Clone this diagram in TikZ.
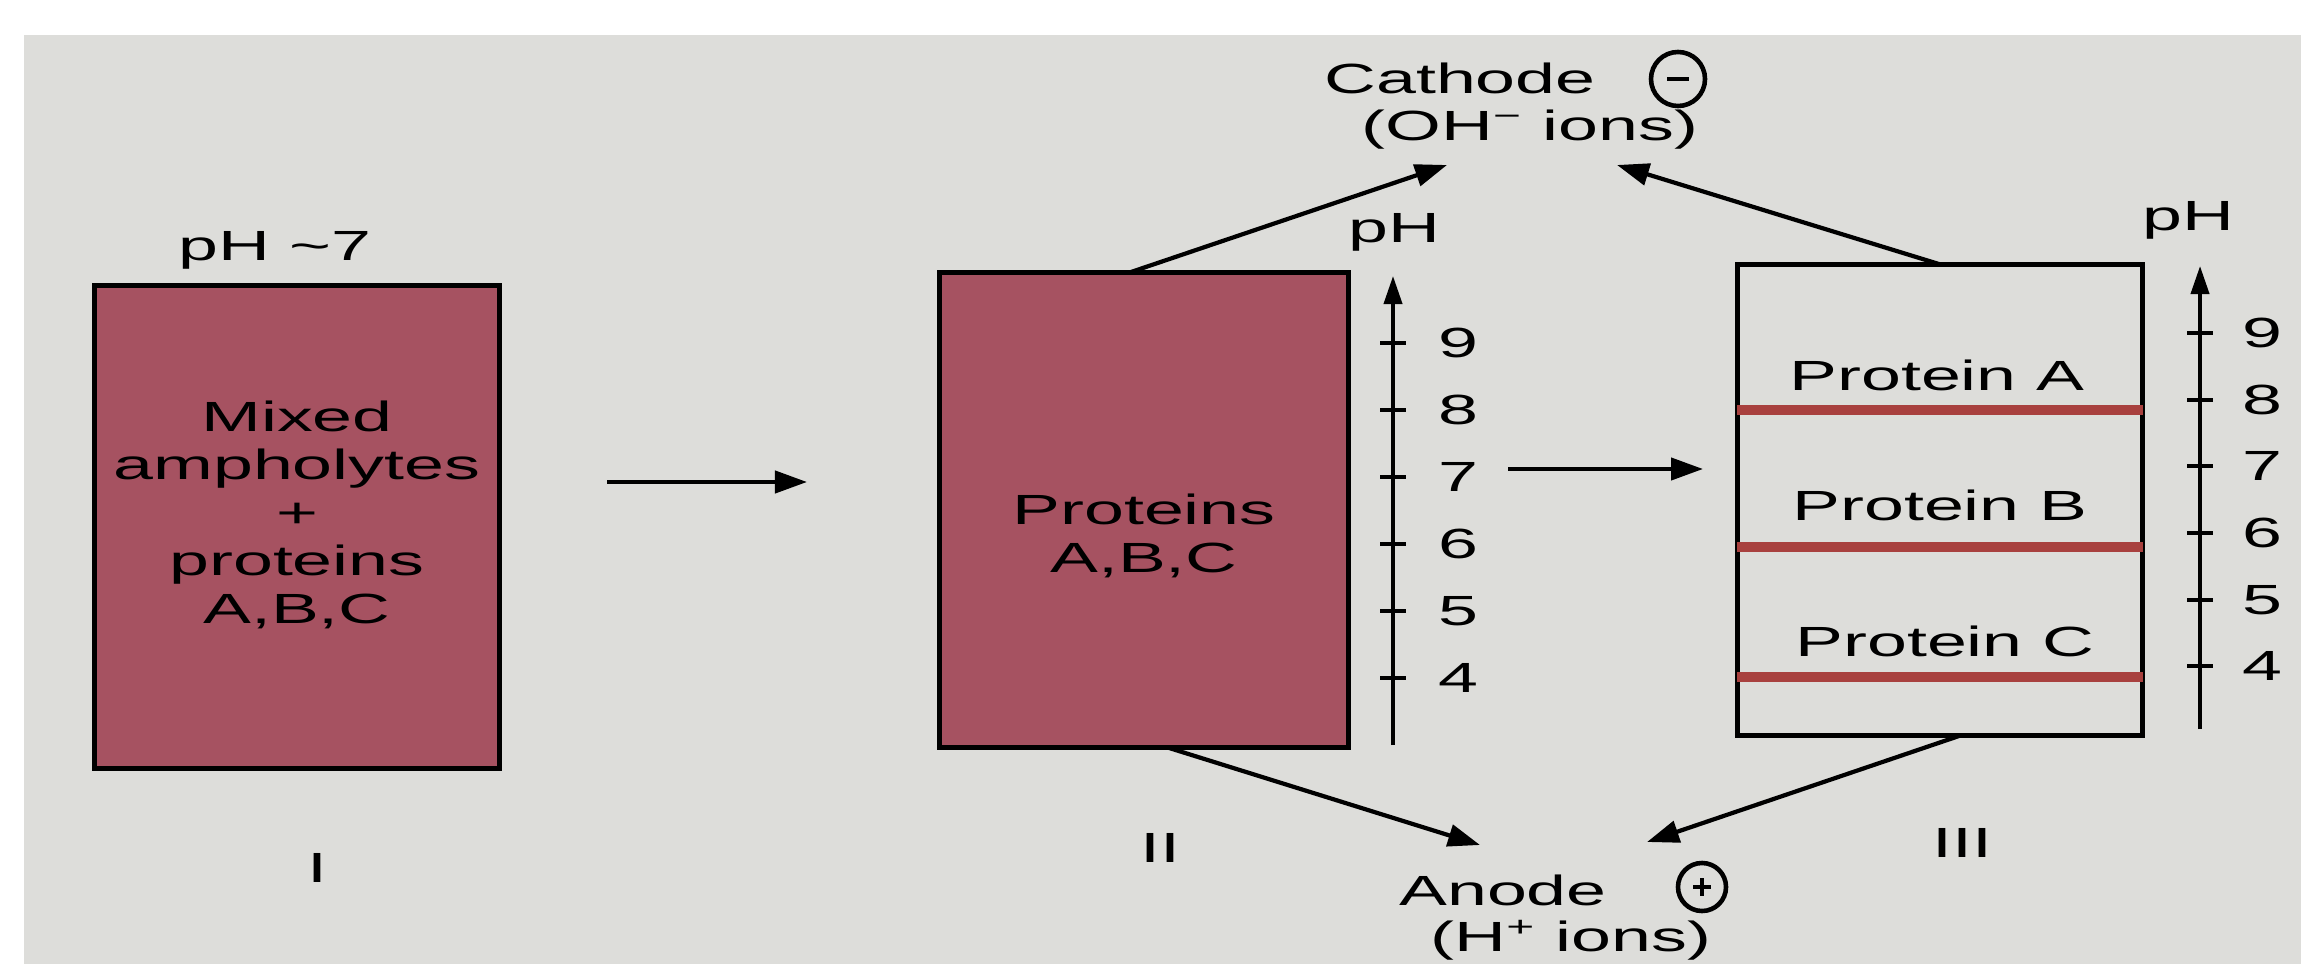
\documentclass[tikz,border=0pt]{standalone}
\usepackage{fontspec}
\setmainfont{Liberation Sans}[FakeStretch=1.7]
\usetikzlibrary{arrows.meta,calc}
\definecolor{bgc}{RGB}{221,221,218}
\definecolor{gelc}{RGB}{166,82,97}
\definecolor{bandc}{RGB}{168,64,62}
\begin{document}
\begin{tikzpicture}[x=0.01cm,y=-0.01cm,
  lbl/.style={font=\fontsize{12}{13.7}\selectfont, inner sep=0pt, align=center},
  gelbox/.style={draw=black, line width=1.4pt, fill=gelc, inner sep=0pt, outer sep=0pt},
  clearbox/.style={draw=black, line width=1.4pt, inner sep=0pt, outer sep=0pt},
  arr/.style={-{Triangle[length=0.32cm,width=0.22cm]}, line width=1.2pt},
  axisline/.style={-{Triangle[length=0.28cm,width=0.18cm]}, line width=1.1pt},
  phtick/.style={line width=1.1pt},
  bandline/.style={draw=bandc, line width=2.8pt},
  sign/.style={circle, draw=black, line width=1.3pt, inner sep=0pt}]
\useasboundingbox (0,0) rectangle (2301,964);
\fill[white] (0,0) rectangle (2301,964);
\fill[bgc] (24,35) rectangle (2301,964);

% Box I
\node[gelbox, minimum width=4.05cm, minimum height=4.82cm] (b1) at (297,527) {};
\node[lbl] (t1) at (297,515) {Mixed\\ampholytes\\+\\proteins\\A,B,C};
\node[lbl] (ph7) at (275,250) {pH \textasciitilde7};
\node[lbl] (r1) at (317,868) {I};

% Box II
\node[gelbox, minimum width=4.08cm, minimum height=4.75cm] (b2) at (1144,510) {};
\node[lbl] (t2) at (1144,536) {Proteins\\A,B,C};
\node[lbl] (r2) at (1160,848) {II};

% pH axis II
\node[lbl] (phII) at (1394,232) {pH};
\coordinate (axIIb) at (1393,745);
\coordinate (axIIt) at (1393,276);
\draw[axisline] (axIIb) -- (axIIt);
\foreach \v/\y in {9/343,8/410,7/477,6/544,5/611,4/678}{
  \draw[phtick] (1380,\y) -- (1406,\y);
  \node[lbl] (nII\v) at (1458,\y) {\v};
}

% Box III
\node[clearbox, minimum width=4.05cm, minimum height=4.71cm] (b3) at (1940,500) {};
\draw[bandline] (b3.west |- 0,410) -- (b3.east |- 0,410);
\draw[bandline] (b3.west |- 0,547) -- (b3.east |- 0,547);
\draw[bandline] (b3.west |- 0,677) -- (b3.east |- 0,677);
\node[lbl] (pa) at (1937,375) {Protein A};
\node[lbl] (pb) at (1940,505) {Protein B};
\node[lbl] (pc) at (1945,641) {Protein C};
\node[lbl] (r3) at (1962,843) {III};

% pH axis III
\node[lbl] (phIII) at (2188,220) {pH};
\coordinate (axIIIb) at (2200,729);
\coordinate (axIIIt) at (2200,266);
\draw[axisline] (axIIIb) -- (axIIIt);
\foreach \v/\y in {9/333,8/400,7/466,6/533,5/600,4/666}{
  \draw[phtick] (2187,\y) -- (2213,\y);
  \node[lbl] (nIII\v) at (2262,\y) {\v};
}

% horizontal arrows
\coordinate (a1s) at (607,482);
\coordinate (a1e) at (807,482);
\draw[arr] (a1s) -- (a1e);
\coordinate (a2s) at (1508,469);
\coordinate (a2e) at (1703,469);
\draw[arr] (a2s) -- (a2e);

% Cathode
\node[lbl] (cath) at (1460,78) {Cathode};
\node[sign, minimum size=0.54cm] (cs) at (1678,79) {};
\draw[line width=1.1pt] ($(cs.center)+(-11,0)$) -- ($(cs.center)+(11,0)$);
\node[lbl] (oh) at (1530,130) {(OH\textsuperscript{−} ions)};
\coordinate (ctl) at (1447,165);
\coordinate (ctr) at (1617,165);
\draw[arr] ([xshift=-0.14cm]b2.north) -- (ctl);
\draw[arr] (b3.north) -- (ctr);

% Anode
\node[lbl] (an) at (1503,890) {Anode};
\node[sign, minimum size=0.48cm] (as) at (1702,887) {};
\draw[line width=1pt] ($(as.center)+(-9,0)$) -- ($(as.center)+(9,0)$);
\draw[line width=1pt] ($(as.center)+(0,-9)$) -- ($(as.center)+(0,9)$);
\node[lbl] (hions) at (1571,940) {(H\textsuperscript{+} ions)};
\coordinate (atl) at (1480,845);
\coordinate (atr) at (1647,842);
\draw[arr] ([xshift=0.24cm]b2.south) -- (atl);
\draw[arr] ([xshift=0.2cm]b3.south) -- (atr);
\end{tikzpicture}
\end{document}
